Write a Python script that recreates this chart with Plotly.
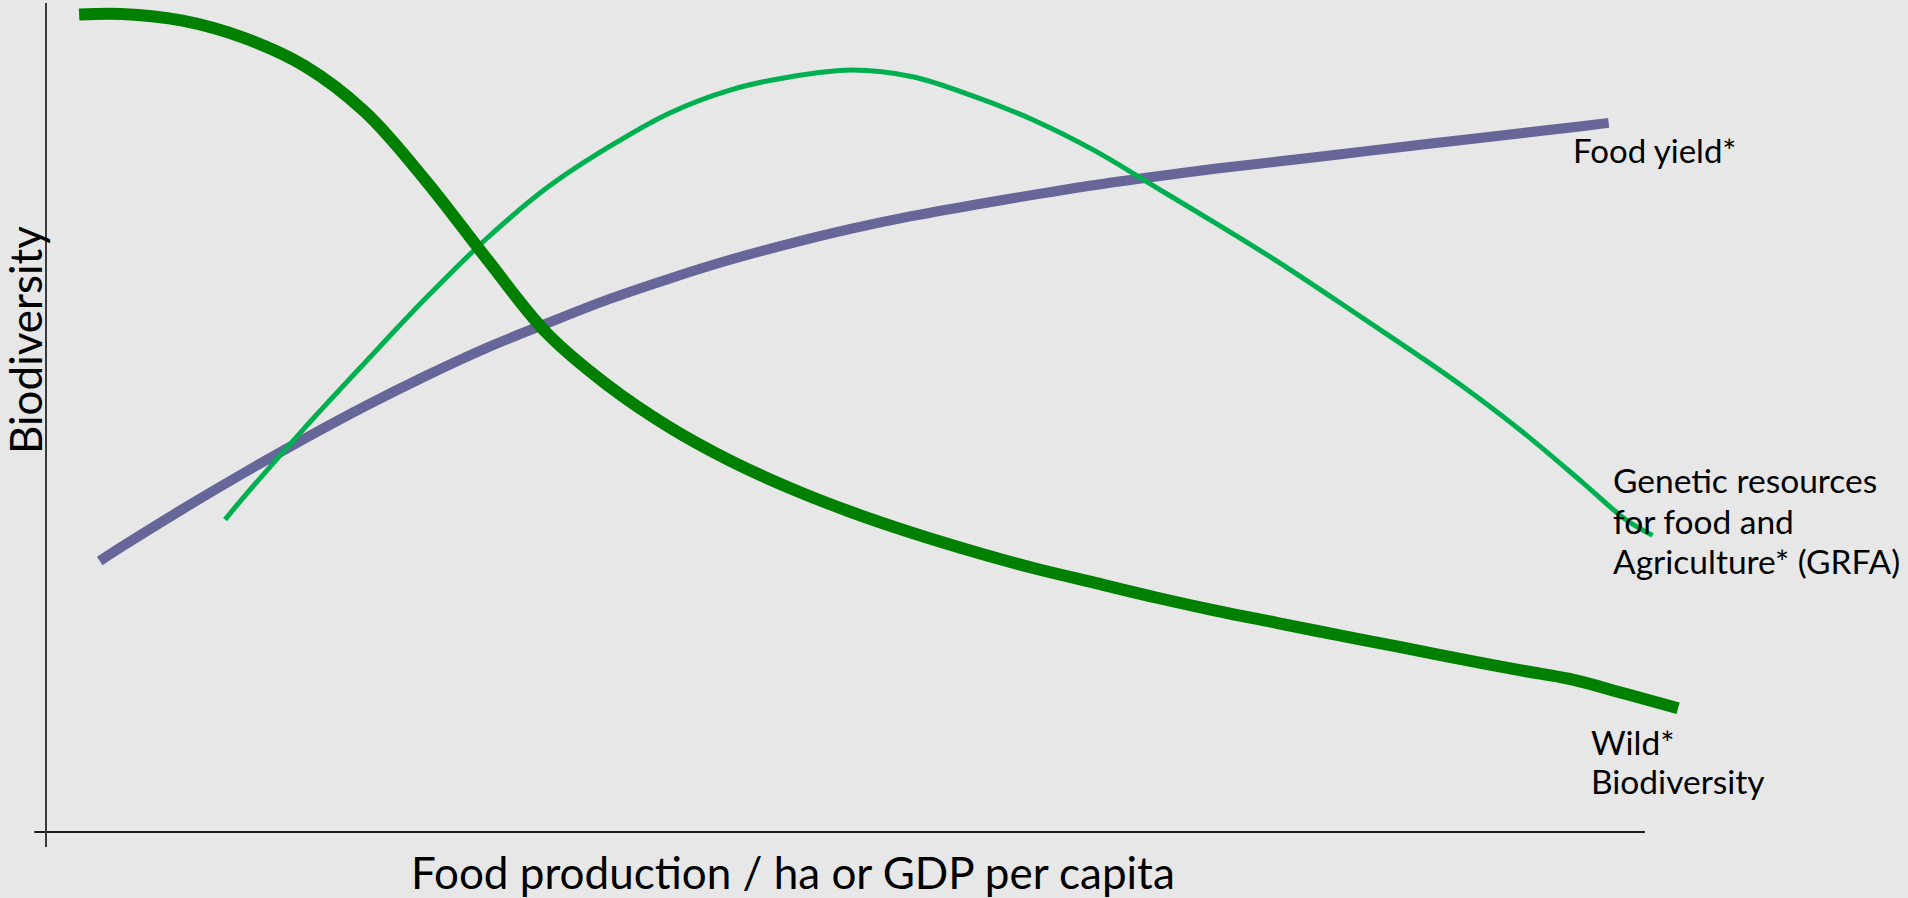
import plotly.graph_objects as go

# ---- data (abstract units: x = food production / GDP, y = biodiversity, axes span 0..100) ----
wild_x = [2.07, 4.73, 8.54, 12.34, 16.15, 19.95, 23.76, 27.56, 31.37, 35.17, 38.98, 42.78,
          46.59, 50.39, 54.20, 58.00, 61.81, 65.61, 69.42, 73.22, 77.03, 80.83, 84.64, 88.44,
          92.25, 95.29, 98.72, 102.07]
wild_y = [98.60, 98.67, 97.86, 95.81, 92.43, 86.86, 78.55, 69.15, 60.08, 53.83, 48.84, 44.80,
          41.44, 38.57, 36.07, 33.84, 31.81, 30.05, 28.29, 26.68, 25.21, 23.74, 22.32, 20.88,
          19.49, 18.46, 16.70, 14.93]

yield_x = [3.36, 4.73, 8.54, 12.34, 16.15, 19.95, 23.76, 27.56, 31.37, 35.17, 38.98, 42.78,
           46.59, 50.39, 54.20, 58.00, 61.81, 65.61, 69.42, 73.22, 77.03, 80.83, 84.64, 88.44,
           92.25, 96.05, 97.73]
yield_y = [32.69, 34.40, 38.95, 43.28, 47.42, 51.35, 55.02, 58.40, 61.39, 64.25, 66.75, 69.02,
           71.00, 72.77, 74.31, 75.63, 76.88, 78.05, 79.08, 80.03, 80.87, 81.73, 82.60, 83.45,
           84.29, 85.14, 85.54]

grfa_x = [11.20, 12.34, 16.15, 19.95, 23.76, 27.56, 31.37, 35.17, 38.98, 42.78, 46.59, 50.39,
          54.20, 58.00, 61.81, 65.61, 69.42, 73.22, 77.03, 80.83, 84.64, 88.44, 92.25, 96.05,
          98.79, 100.47]
grfa_y = [37.69, 40.33, 48.69, 56.62, 64.40, 71.59, 77.76, 82.60, 86.71, 89.50, 91.11, 91.92,
          91.11, 88.76, 85.83, 82.16, 77.76, 73.35, 68.80, 63.96, 59.04, 53.98, 48.40, 42.24,
          37.69, 35.78]

x_title = "Food production / ha or GDP per capita"
y_title = "Biodiversity"
label_yield = ["Food yield*"]
label_grfa = ["Genetic resources", "for food and", "Agriculture* (GRFA)"]
label_wild = ["Wild*", "Biodiversity"]

FONT = "Lato"
BG = "#E7E7E7"

fig = go.Figure()
fig.add_trace(go.Scatter(x=yield_x, y=yield_y, mode="lines",
                         line=dict(color="#666699", width=10, shape="spline", smoothing=1.0),
                         hoverinfo="skip"))
fig.add_trace(go.Scatter(x=grfa_x, y=grfa_y, mode="lines",
                         line=dict(color="#00B050", width=5, shape="spline", smoothing=1.0),
                         hoverinfo="skip"))
fig.add_trace(go.Scatter(x=wild_x, y=wild_y, mode="lines",
                         line=dict(color="#008000", width=12, shape="spline", smoothing=1.0),
                         hoverinfo="skip"))

# axes lines (crossing at origin)
fig.add_shape(type="line", xref="x", yref="y", x0=-0.73, x1=100, y0=0, y1=0,
              line=dict(color="#1a1a1a", width=2))
fig.add_shape(type="line", xref="x", yref="y", x0=0, x1=0, y0=-1.81, y1=100,
              line=dict(color="#3a3a3a", width=2))

ann = []
def add_label(text, px, py, size, xanchor="left"):
    ann.append(dict(text=text, xref="paper", yref="paper", x=px / 1908, y=1 - py / 898,
                    xanchor=xanchor, yanchor="middle", showarrow=False,
                    font=dict(family=FONT, size=size, color="black")))

add_label(label_yield[0], 1571, 150, 33)
for t, py in zip(label_grfa, [480, 520.5, 561]):
    add_label(t, 1611, py, 33.5)
for t, py in zip(label_wild, [741.5, 781]):
    add_label(t, 1589, py, 33.5)

ann.append(dict(text=x_title, xref="paper", yref="paper", x=793 / 1908, y=1 - 872 / 898,
                xanchor="center", yanchor="middle", showarrow=False,
                font=dict(family=FONT, size=44, color="black")))
ann.append(dict(text=y_title, xref="paper", yref="paper", x=25 / 1908, y=1 - 340 / 898,
                xanchor="center", yanchor="middle", showarrow=False, textangle=-90,
                font=dict(family=FONT, size=44, color="black")))

fig.update_layout(
    width=1908, height=898,
    margin=dict(l=0, r=0, t=0, b=0),
    paper_bgcolor=BG, plot_bgcolor=BG,
    showlegend=False,
    annotations=ann,
    xaxis=dict(range=[-2.877, 116.45], visible=False, fixedrange=True),
    yaxis=dict(range=[-7.96, 100.36], visible=False, fixedrange=True),
)

fig.write_html("out.html", config={"displayModeBar": False})
